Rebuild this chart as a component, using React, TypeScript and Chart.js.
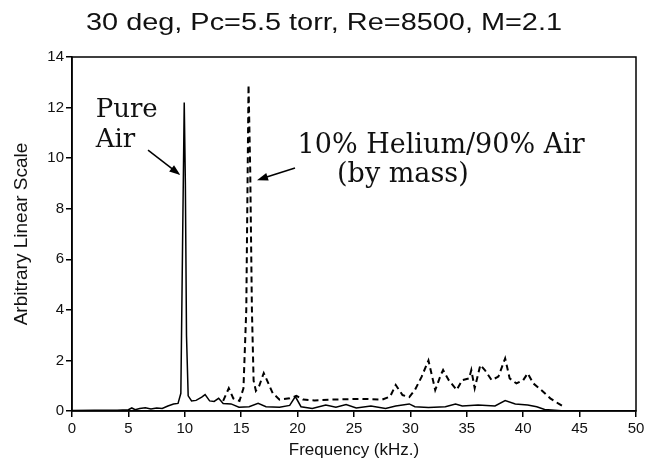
import React, { useEffect, useRef } from "react";
import { Chart, registerables } from "chart.js";

Chart.register(...registerables);

const titleText = "30 deg, Pc=5.5 torr, Re=8500, M=2.1";
const xTitle = "Frequency (kHz.)";
const yTitle = "Arbitrary Linear Scale";
const xTicks = [0, 5, 10, 15, 20, 25, 30, 35, 40, 45, 50];
const yTicks = [0, 2, 4, 6, 8, 10, 12, 14];

// Pure air spectrum (solid)
const airFreq = [0, 2, 4, 5, 5.3, 5.6, 6, 6.5, 7, 7.5, 8, 8.5, 9, 9.4, 9.65, 9.8, 9.95, 10.05, 10.15, 10.3, 10.6, 11, 11.5, 11.8, 12.2, 12.6, 13, 13.4, 14.1, 14.8, 15.7, 16.5, 17.2, 18.4, 19.3, 19.8, 20.3, 21.3, 22.5, 23.4, 24.3, 25.2, 26.5, 27.8, 28.7, 29.9, 30.4, 31.6, 33.1, 34.0, 34.6, 36.0, 37.5, 38.4, 39.3, 40.4, 41.2, 41.9, 43.4, 45, 50];
const airAmp = [0.02, 0.03, 0.03, 0.05, 0.12, 0.05, 0.1, 0.13, 0.08, 0.12, 0.1, 0.2, 0.28, 0.3, 0.7, 6.5, 12.2, 9.0, 3.0, 0.6, 0.4, 0.42, 0.55, 0.65, 0.4, 0.38, 0.5, 0.3, 0.28, 0.15, 0.17, 0.3, 0.17, 0.15, 0.22, 0.57, 0.17, 0.1, 0.24, 0.15, 0.26, 0.12, 0.2, 0.1, 0.2, 0.28, 0.17, 0.14, 0.17, 0.28, 0.2, 0.24, 0.2, 0.41, 0.28, 0.24, 0.17, 0.06, 0.01, 0, 0];

// 10% Helium / 90% Air spectrum (dashed)
const heFreq = [13.4, 13.9, 14.3, 14.85, 15.2, 15.45, 15.65, 15.8, 15.95, 16.1, 16.3, 16.6, 17.0, 17.2, 17.8, 18.4, 19.3, 19.9, 20.5, 21.5, 23, 25.7, 27.5, 28.2, 28.7, 29.3, 29.9, 30.4, 31.0, 31.6, 32.0, 32.2, 32.7, 32.9, 33.4, 34.1, 34.6, 35.2, 35.4, 35.7, 36.2, 36.6, 37.2, 37.8, 38.4, 38.8, 39.4, 40.0, 40.4, 40.9, 41.6, 42.4, 43.1, 43.7];
const heAmp = [0.4, 0.9, 0.5, 0.4, 0.9, 4.0, 12.9, 9.5, 4.0, 1.2, 0.8, 1.0, 1.5, 1.3, 0.7, 0.45, 0.5, 0.6, 0.45, 0.42, 0.45, 0.48, 0.45, 0.57, 1.03, 0.63, 0.55, 0.83, 1.36, 2.0, 1.22, 0.83, 1.43, 1.62, 1.22, 0.83, 1.22, 1.29, 1.62, 0.9, 1.82, 1.62, 1.22, 1.36, 2.08, 1.29, 1.09, 1.22, 1.49, 1.09, 0.83, 0.5, 0.3, 0.14];

const annotationPlugin = {
  id: "annotations",
  afterDraw(chart: any) {
    const { ctx, chartArea, scales } = chart;
    const x = scales.x;
    const y = scales.y;
    ctx.save();
    // frame
    ctx.strokeStyle = "#000";
    ctx.lineWidth = 1.5;
    ctx.strokeRect(chartArea.left, chartArea.top, chartArea.right - chartArea.left, chartArea.bottom - chartArea.top);

    // title (stretched horizontally to match the original lettering)
    ctx.fillStyle = "#111";
    ctx.font = "24px 'Liberation Sans', Arial, sans-serif";
    ctx.textAlign = "center";
    ctx.textBaseline = "alphabetic";
    const w = ctx.measureText(titleText).width;
    ctx.save();
    ctx.translate(324, 30);
    ctx.scale(476 / w, 1);
    ctx.fillText(titleText, 0, 0);
    ctx.restore();

    // annotation texts
    ctx.fillStyle = "#111";
    ctx.font = "26px 'DejaVu Serif', serif";
    ctx.textAlign = "left";
    ctx.fillText("Pure", x.getPixelForValue(2.1), y.getPixelForValue(11.63));
    ctx.fillText("Air", x.getPixelForValue(2.1), y.getPixelForValue(10.45));
    ctx.font = "27px 'DejaVu Serif', serif";
    ctx.fillText("10% Helium/90% Air", x.getPixelForValue(20.0), y.getPixelForValue(10.2));
    ctx.fillText("(by mass)", x.getPixelForValue(23.5), y.getPixelForValue(9.05));

    const arrow = (fx: number, fy: number, tx: number, ty: number) => {
      const x1 = x.getPixelForValue(fx), y1 = y.getPixelForValue(fy);
      const x2 = x.getPixelForValue(tx), y2 = y.getPixelForValue(ty);
      const ang = Math.atan2(y2 - y1, x2 - x1);
      ctx.strokeStyle = "#000";
      ctx.lineWidth = 1.5;
      ctx.beginPath();
      ctx.moveTo(x1, y1);
      ctx.lineTo(x2 - 6 * Math.cos(ang), y2 - 6 * Math.sin(ang));
      ctx.stroke();
      ctx.fillStyle = "#000";
      ctx.beginPath();
      ctx.moveTo(x2, y2);
      ctx.lineTo(x2 - 11 * Math.cos(ang) + 4 * Math.sin(ang), y2 - 11 * Math.sin(ang) - 4 * Math.cos(ang));
      ctx.lineTo(x2 - 11 * Math.cos(ang) - 4 * Math.sin(ang), y2 - 11 * Math.sin(ang) + 4 * Math.cos(ang));
      ctx.closePath();
      ctx.fill();
    };
    arrow(6.74, 10.32, 9.6, 9.33);
    arrow(19.77, 9.61, 16.4, 9.13);
    ctx.restore();
  },
};

export default function App() {
  const ref = useRef<HTMLCanvasElement | null>(null);
  useEffect(() => {
    if (!ref.current) return;
    const chart = new Chart(ref.current, {
      type: "line",
      data: {
        datasets: [
          {
            label: "Pure Air",
            data: airFreq.map((f, i) => ({ x: f, y: airAmp[i] })),
            borderColor: "#000",
            borderWidth: 1.5,
            pointRadius: 0,
            fill: false,
            tension: 0,
          },
          {
            label: "10% Helium/90% Air",
            data: heFreq.map((f, i) => ({ x: f, y: heAmp[i] })),
            borderColor: "#000",
            borderWidth: 2,
            borderDash: [6, 4],
            pointRadius: 0,
            fill: false,
            tension: 0,
          },
        ],
      },
      options: {
        responsive: false,
        animation: false,
        layout: { padding: { top: 57, right: 22, left: 0, bottom: 0 } },
        plugins: { legend: { display: false }, tooltip: { enabled: false }, title: { display: false } },
        scales: {
          x: {
            type: "linear",
            min: 0,
            max: 50,
            afterBuildTicks: (s: any) => { s.ticks = xTicks.map((v) => ({ value: v })); },
            afterFit: (s: any) => { s.height = 59; },
            ticks: { color: "#111", font: { family: "'Liberation Sans', Arial, sans-serif", size: 15 }, padding: 3, maxRotation: 0 },
            grid: { display: true, drawOnChartArea: false, drawTicks: true, tickLength: 6, color: "#000", lineWidth: 1.5 },
            border: { display: true, color: "#000", width: 1.5 },
            title: { display: true, text: xTitle, color: "#111", font: { family: "'Liberation Sans', Arial, sans-serif", size: 17 }, padding: { top: 0, bottom: 9 } },
          },
          y: {
            type: "linear",
            min: 0,
            max: 14,
            afterBuildTicks: (s: any) => { s.ticks = yTicks.map((v) => ({ value: v })); },
            afterFit: (s: any) => { s.width = 72; },
            ticks: { color: "#111", font: { family: "'Liberation Sans', Arial, sans-serif", size: 15 }, padding: 2 },
            grid: { display: true, drawOnChartArea: false, drawTicks: true, tickLength: 6, color: "#000", lineWidth: 1.5 },
            border: { display: true, color: "#000", width: 1.5 },
            title: { display: true, text: yTitle, color: "#111", font: { family: "'Liberation Sans', Arial, sans-serif", size: 19 }, padding: { top: 10, bottom: 0 } },
          },
        },
      },
      plugins: [annotationPlugin],
    });
    return () => chart.destroy();
  }, []);
  return (
    <div style={{ position: "fixed", left: 0, top: 0, width: 658, height: 470, background: "#fff" }}>
      <canvas ref={ref} width={658} height={470} style={{ display: "block" }} />
    </div>
  );
}
